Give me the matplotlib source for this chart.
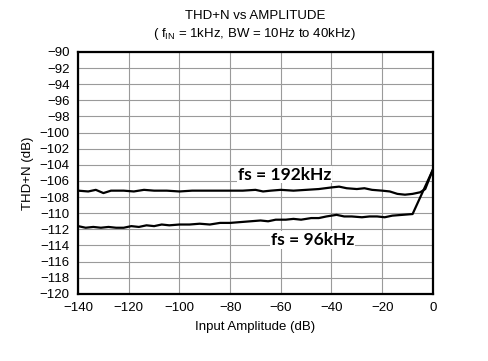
import matplotlib
matplotlib.use("Agg")
import matplotlib.pyplot as plt

plt.rcParams['font.family'] = ['Liberation Sans', 'DejaVu Sans']

# fs = 192kHz curve
amp192 = [-140, -136, -133, -130, -127, -122, -118, -114, -110, -105, -100, -95, -90,
          -85, -80, -75, -70, -67, -64, -60, -55, -50, -45, -40, -37, -34, -30, -27,
          -24, -20, -17, -14, -11, -8, -5, -3, 0]
thd192 = [-107.2, -107.3, -107.1, -107.5, -107.2, -107.2, -107.3, -107.1, -107.2, -107.2,
          -107.3, -107.2, -107.2, -107.2, -107.2, -107.2, -107.1, -107.3, -107.2, -107.1,
          -107.2, -107.1, -107.0, -106.8, -106.7, -106.9, -107.0, -106.9, -107.1, -107.2,
          -107.3, -107.6, -107.7, -107.6, -107.4, -107.0, -104.6]

# fs = 96kHz curve
amp96 = [-140, -137, -134, -131, -128, -125, -122, -119, -116, -113, -110, -107, -104,
         -100, -96, -92, -88, -84, -80, -76, -72, -68, -65, -62, -58, -55, -52, -48,
         -45, -42, -38, -35, -32, -28, -25, -22, -19, -16, -12, -8, 0]
thd96 = [-111.6, -111.8, -111.7, -111.8, -111.7, -111.8, -111.8, -111.6, -111.7, -111.5,
         -111.6, -111.4, -111.5, -111.4, -111.4, -111.3, -111.4, -111.2, -111.2, -111.1,
         -111.0, -110.9, -111.0, -110.8, -110.8, -110.7, -110.8, -110.6, -110.6, -110.4,
         -110.2, -110.4, -110.4, -110.5, -110.4, -110.4, -110.5, -110.3, -110.2, -110.1,
         -104.6]

xticks = list(range(-140, 1, 20))
yticks = list(range(-120, -89, 2))

fig = plt.figure(figsize=(4.88, 3.61), dpi=100)
ax = fig.add_axes([0.16, 0.186, 0.727, 0.67])

ax.plot(amp192, thd192, color='black', lw=1.6, zorder=3)
ax.plot(amp96, thd96, color='black', lw=1.6, zorder=3)

ax.set_xlim(-140, 0)
ax.set_ylim(-120, -90)
ax.set_xticks(xticks)
ax.set_yticks(yticks)
ax.set_xticklabels(['\u2212' + str(-t) if t < 0 else str(t) for t in xticks])
ax.set_yticklabels(['\u2212' + str(-t) for t in yticks])
ax.tick_params(length=0, labelsize=9.5, pad=6)
ax.grid(True, color='#9a9a9a', lw=0.8)
for s in ax.spines.values():
    s.set_linewidth(1.6)

ax.set_xlabel('Input Amplitude (dB)', fontsize=9.5, labelpad=5)
ax.set_ylabel('THD+N (dB)', fontsize=9.5, labelpad=4)

fig.text(0.522, 0.955, 'THD+N vs AMPLITUDE', ha='center', va='center', fontsize=9.5)
fig.text(0.522, 0.905, '( f$_{\\mathregular{IN}}$ = 1kHz, BW = 10Hz to 40kHz)',
         ha='center', va='center', fontsize=9.5)

ax.text(-77, -105.2, 'fs = 192kHz', fontsize=12.5, fontweight='bold', ha='left', va='center',
        family=['Lato', 'DejaVu Sans'], bbox=dict(facecolor='white', edgecolor='none', pad=0.5), zorder=4)
ax.text(-64, -113.3, 'fs = 96kHz', fontsize=12.5, fontweight='bold', ha='left', va='center',
        family=['Lato', 'DejaVu Sans'], bbox=dict(facecolor='white', edgecolor='none', pad=0.5), zorder=4)

fig.savefig('out.png', dpi=100)
